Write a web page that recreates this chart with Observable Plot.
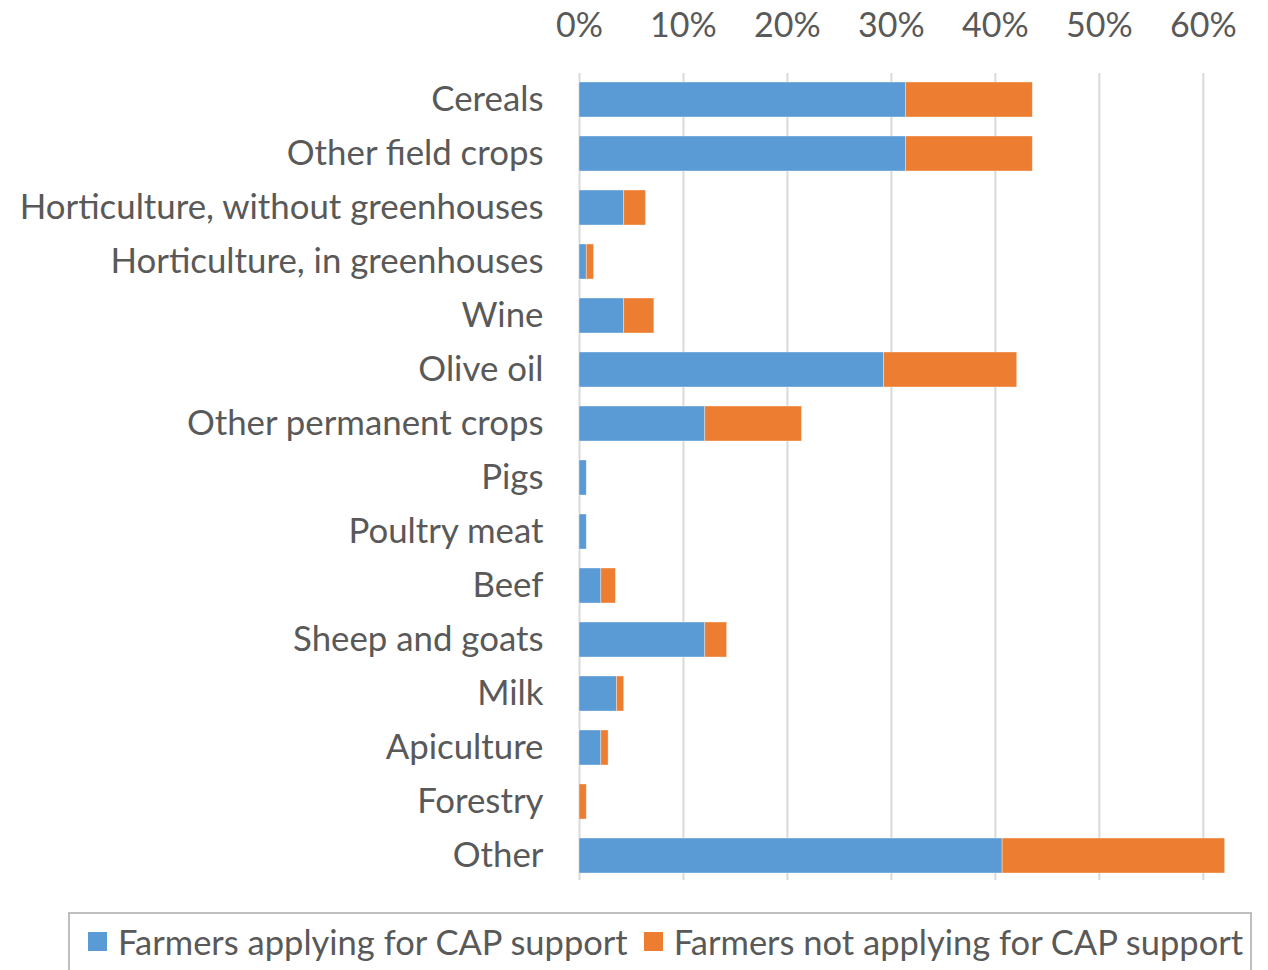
<!DOCTYPE html>
<html>
<head>
<meta charset="utf-8">
<script src="https://cdn.jsdelivr.net/npm/d3@7"></script>
<script src="https://cdn.jsdelivr.net/npm/@observablehq/plot@0.6"></script>
<style>
  html, body { margin: 0; padding: 0; background: #fff; }
  body { width: 1268px; height: 970px; overflow: hidden; font-family: Lato, sans-serif; }
  #chart { position: absolute; left: 0; top: 0; }
  #legend {
    position: absolute; left: 68px; top: 912px; width: 1184px; height: 70px;
    border: 2px solid #bfbfbf; box-sizing: border-box;
    display: flex; align-items: flex-start; justify-content: flex-start; padding-top: 7px; padding-left: 18px;
    font-family: Lato, sans-serif; font-size: 34.5px; color: #595959; white-space: nowrap;
  }
  .item { display: flex; align-items: center; margin-right: 16px; }
  .sw { width: 19px; height: 19px; margin-right: 11px; display: inline-block; }
</style>
</head>
<body>
<div id="chart"></div>
<div id="legend"></div>
<script>
const categories = [
  "Cereals", "Other field crops", "Horticulture, without greenhouses",
  "Horticulture, in greenhouses", "Wine", "Olive oil", "Other permanent crops",
  "Pigs", "Poultry meat", "Beef", "Sheep and goats", "Milk", "Apiculture",
  "Forestry", "Other"
];
const seriesNames = ["Farmers applying for CAP support", "Farmers not applying for CAP support"];
const seriesColors = ["#5b9bd5", "#ed7d31"];
// values in percent
const applying =    [31.4, 31.4, 4.3, 0.7, 4.3, 29.3, 12.1, 0.7, 0.7, 2.1, 12.1, 3.6, 2.1, 0.0, 40.7];
const notApplying = [12.2, 12.2, 2.1, 0.7, 2.9, 12.8,  9.3, 0.0, 0.0, 1.4,  2.1, 0.7, 0.7, 0.7, 21.4];
const xTicks = [0, 10, 20, 30, 40, 50, 60];

const rows = [];
categories.forEach((c, i) => {
  rows.push({category: c, series: seriesNames[0], value: applying[i]});
  rows.push({category: c, series: seriesNames[1], value: notApplying[i]});
});

const chart = Plot.plot({
  width: 1268,
  height: 900,
  marginLeft: 579,
  marginRight: 34,
  marginTop: 73,
  marginBottom: 17,
  style: {fontFamily: "Lato, sans-serif", color: "#595959", background: "white"},
  x: {domain: [0, 63], ticks: xTicks},
  y: {domain: categories, paddingInner: 0.35, paddingOuter: 0.175, align: 0.5},
  color: {domain: seriesNames, range: seriesColors},
  marks: [
    Plot.ruleX(xTicks, {stroke: "#d9d9d9", strokeWidth: 2, strokeOpacity: 1, insetBottom: 3}),
    Plot.barX(rows, Plot.stackX({x: "value", y: "category", fill: "series", order: seriesNames, stroke: "white", strokeOpacity: 0.5, strokeWidth: 0.7})),
    Plot.axisX({anchor: "top", ticks: xTicks, tickSize: 0, tickPadding: 37, tickFormat: d => d + "%", fontSize: 34, fill: "#595959", label: null}),
    Plot.axisY({anchor: "left", tickSize: 0, tickPadding: 36, fontSize: 34.8, fill: "#595959", label: null})
  ]
});
document.getElementById("chart").appendChild(chart);

const legend = document.getElementById("legend");
seriesNames.forEach((s, i) => {
  const it = document.createElement("div");
  it.className = "item";
  const sw = document.createElement("span");
  sw.className = "sw";
  sw.style.background = seriesColors[i];
  const t = document.createElement("span");
  t.textContent = s;
  it.appendChild(sw); it.appendChild(t);
  legend.appendChild(it);
});
</script>
</body>
</html>
